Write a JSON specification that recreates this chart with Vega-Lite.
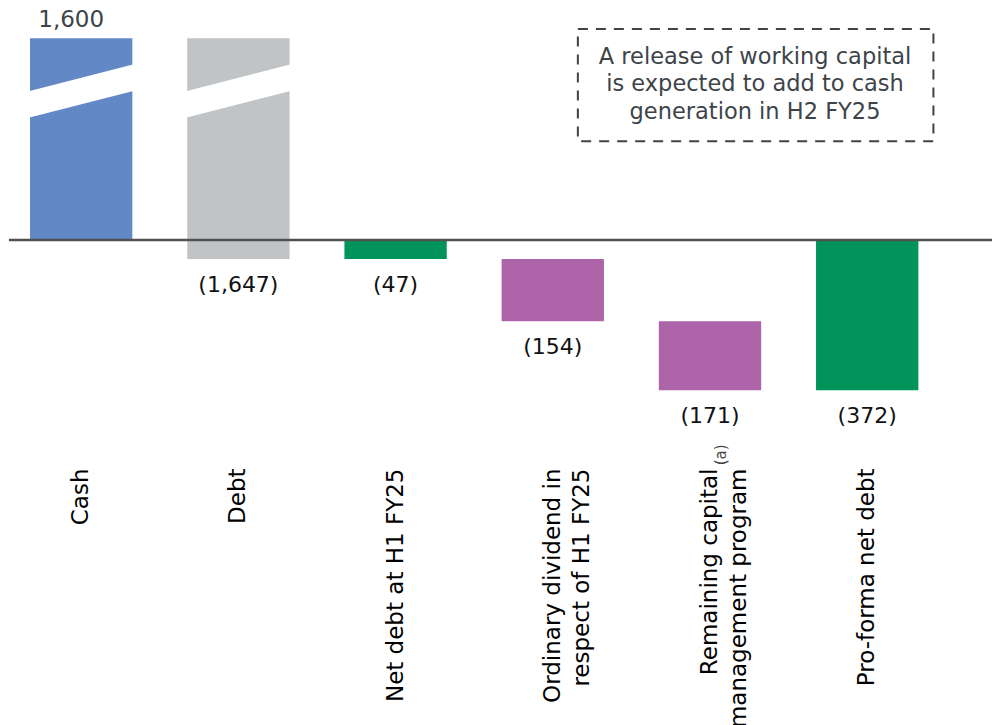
{
  "$schema": "https://vega.github.io/schema/vega-lite/v6.json",
  "width": 983,
  "height": 456,
  "autosize": {"type": "none"},
  "padding": {"left": 9, "top": 0, "right": 0, "bottom": 269},
  "background": "white",
  "config": {"view": {"stroke": null}, "font": "DejaVu Sans"},
  "datasets": {
    "bars": [
      {"cat": "Cash", "start": 0, "end": 500, "label": "1,600", "kind": "cash"},
      {"cat": "Debt", "start": 500, "end": -47, "label": "(1,647)", "kind": "debt"},
      {"cat": "Net debt at H1 FY25", "start": 0, "end": -47, "label": "(47)", "kind": "net"},
      {"cat": "Ordinary dividend in|respect of H1 FY25", "start": -47, "end": -201, "label": "(154)", "kind": "outflow"},
      {"cat": "Remaining capital|management program", "start": -201, "end": -372, "label": "(171)", "kind": "outflow"},
      {"cat": "Pro-forma net debt", "start": 0, "end": -372, "label": "(372)", "kind": "net"}
    ],
    "breaks": [
      {"cat": "Cash", "yl": 337, "yr": 402},
      {"cat": "Debt", "yl": 337, "yr": 402}
    ],
    "note": [
      {"from": "Ordinary dividend in|respect of H1 FY25", "to": "Pro-forma net debt", "mid": "Remaining capital|management program", "top": 523, "bottom": 245, "ty": 454,
       "text": ["A release of working capital", "is expected to add to cash", "generation in H2 FY25"]}
    ],
    "foot": [
      {"cat": "Remaining capital|management program", "y": -532, "mark": "(a)"}
    ]
  },
  "layer": [
    {
      "data": {"name": "bars"},
      "mark": {"type": "bar"},
      "encoding": {
        "x": {
          "field": "cat", "type": "nominal",
          "scale": {
            "domain": ["Cash", "Debt", "Net debt at H1 FY25", "Ordinary dividend in|respect of H1 FY25", "Remaining capital|management program", "Pro-forma net debt"],
            "paddingInner": 0.349, "paddingOuter": 0.301, "align": 0.222
          },
          "axis": {
            "title": null, "domain": false, "ticks": false, "tickSize": 0,
            "labelAngle": 270, "labelFont": "DejaVu Sans", "labelFontSize": 23,
            "labelColor": "#000000", "labelPadding": 12, "labelLineHeight": 29,
            "labelLimit": 500, "labelOverlap": false, "labelFlush": false,
            "labelExpr": "split(datum.label, '|')"
          }
        },
        "y": {"field": "start", "type": "quantitative", "scale": {"domain": [-535, 595], "nice": false, "zero": false}, "axis": null},
        "y2": {"field": "end"},
        "color": {
          "field": "kind", "type": "nominal",
          "scale": {"domain": ["cash", "debt", "net", "outflow"], "range": ["#6289C6", "#C1C4C7", "#00935A", "#AE64A8"]},
          "legend": null
        }
      }
    },
    {
      "data": {"name": "breaks"},
      "mark": {"type": "rule", "color": "white", "strokeWidth": 25.7, "strokeCap": "square"},
      "encoding": {
        "x": {"field": "cat", "type": "nominal", "bandPosition": 0},
        "x2": {"field": "cat", "bandPosition": 1},
        "y": {"field": "yl", "type": "quantitative"},
        "y2": {"field": "yr"}
      }
    },
    {
      "data": {"values": [{}]},
      "mark": {"type": "rule", "color": "#505050", "strokeWidth": 2.5},
      "encoding": {"y": {"datum": 0, "type": "quantitative"}}
    },
    {
      "data": {"name": "bars"},
      "transform": [{"filter": "datum.end < datum.start"}],
      "mark": {"type": "text", "baseline": "top", "dy": 16, "fontSize": 22, "color": "#111111", "font": "DejaVu Sans"},
      "encoding": {
        "x": {"field": "cat", "type": "nominal"},
        "y": {"field": "end", "type": "quantitative"},
        "text": {"field": "label"}
      }
    },
    {
      "data": {"name": "bars"},
      "transform": [{"filter": "datum.end > datum.start"}],
      "mark": {"type": "text", "baseline": "alphabetic", "dy": -11, "dx": -10, "fontSize": 23, "color": "#3b4449", "font": "DejaVu Sans"},
      "encoding": {
        "x": {"field": "cat", "type": "nominal"},
        "y": {"field": "end", "type": "quantitative"},
        "text": {"field": "label"}
      }
    },
    {
      "data": {"name": "note"},
      "mark": {"type": "rect", "fillOpacity": 0, "stroke": "#3d4449", "strokeWidth": 2, "strokeDash": [10, 8]},
      "encoding": {
        "x": {"field": "from", "type": "nominal", "bandPosition": 0.745},
        "x2": {"field": "to", "bandPosition": 1.147},
        "y": {"field": "top", "type": "quantitative"},
        "y2": {"field": "bottom"}
      }
    },
    {
      "data": {"name": "note"},
      "mark": {"type": "text", "fontSize": 22.5, "lineHeight": 27.5, "baseline": "middle", "align": "center", "color": "#3d4449", "font": "DejaVu Sans"},
      "encoding": {
        "x": {"field": "mid", "type": "nominal", "bandPosition": 0.94},
        "y": {"field": "ty", "type": "quantitative"},
        "text": {"field": "text"}
      }
    },
    {
      "data": {"name": "foot"},
      "mark": {"type": "text", "angle": 270, "fontSize": 15, "align": "center", "baseline": "middle", "color": "#444444", "font": "DejaVu Sans"},
      "encoding": {
        "x": {"field": "cat", "type": "nominal", "bandPosition": 0.61},
        "y": {"field": "y", "type": "quantitative"},
        "text": {"field": "mark"}
      }
    }
  ]
}
